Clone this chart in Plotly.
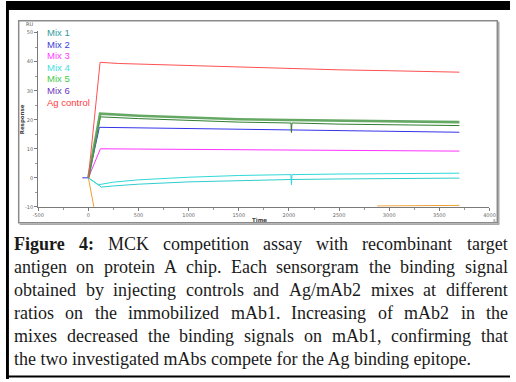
import plotly.graph_objects as go

W, H = 516, 382

# ---------------- data ----------------
x_ticks = [-500, 0, 500, 1000, 1500, 2000, 2500, 3000, 3500, 4000]
y_ticks = [-10, 0, 10, 20, 30, 40, 50]

mix5_t = [0, 117, 500, 1000, 1500, 2000, 2500, 3000, 3500, 3700]
mix5_v = [0, 22.1, 21.4, 20.7, 20.2, 19.9, 19.7, 19.5, 19.3, 19.2]

mix1_t = [0, 120, 500, 1000, 1500, 2000, 2020, 2025, 2030, 2500, 3000, 3500, 3700]
mix1_v = [0, 21.0, 20.4, 19.8, 19.2, 18.9, 18.9, 15.6, 18.9, 18.5, 18.3, 18.1, 18.0]

mix2_t = [-60, 0, 110, 500, 1000, 1500, 2000, 2500, 3000, 3500, 3700]
mix2_v = [0, 0, 17.4, 17.2, 16.9, 16.6, 16.4, 16.2, 16.0, 15.8, 15.7]

mix3_t = [0, 120, 500, 1000, 1500, 2000, 2500, 3000, 3500, 3700]
mix3_v = [0, 10.0, 9.9, 9.8, 9.6, 9.5, 9.4, 9.3, 9.25, 9.2]

mix4_t = [0, 100, 250, 500, 1000, 1500, 2000, 2020, 2025, 2030, 2500, 3000, 3500, 3700]
mix4_v = [0, -2.4, -1.5, -0.7, 0.2, 0.8, 1.1, 1.1, -2.4, 1.1, 1.3, 1.4, 1.5, 1.6]

mix6_t = [0, 130, 250, 500, 1000, 1500, 2000, 2500, 3000, 3500, 3700]
mix6_v = [0, -3.2, -2.8, -2.2, -1.4, -0.9, -0.6, -0.4, -0.25, -0.15, -0.1]

agc_t = [0, 117, 300, 500, 1000, 1500, 2000, 2500, 3000, 3500, 3700]
agc_v = [0, 39.8, 39.4, 39.2, 38.6, 38.1, 37.6, 37.2, 36.9, 36.6, 36.4]

regen_t = [0, 60, None, 2880, 3300, 3700]
regen_v = [0, -11, None, -9.7, -9.6, -9.5]

legend_names = ["Mix 1", "Mix 2", "Mix 3", "Mix 4", "Mix 5", "Mix 6", "Ag control"]
legend_colors = ["#2f9c9c", "#3b3bd6", "#ff3dff", "#3fe0e0", "#44cc44", "#6b35c0", "#ff3b3b"]

caption_lines = [
    "Figure 4: MCK competition assay with recombinant target",
    "antigen on protein A chip. Each sensorgram the binding signal",
    "obtained by injecting controls and Ag/mAb2 mixes at different",
    "ratios on the immobilized mAb1. Increasing of mAb2 in the",
    "mixes decreased the binding signals on mAb1, confirming that",
    "the two investigated mAbs compete for the Ag binding epitope.",
]

# ---------------- helpers ----------------
def px(x):
    return x / W

def py(y):
    return 1 - y / H

TIMES = {' ': 250, 'a': 444, 'b': 500, 'c': 444, 'd': 500, 'e': 444, 'f': 333, 'g': 500,
         'h': 500, 'i': 278, 'j': 278, 'k': 500, 'l': 278, 'm': 778, 'n': 500, 'o': 500,
         'p': 500, 'q': 500, 'r': 333, 's': 389, 't': 278, 'u': 500, 'v': 500, 'w': 722,
         'x': 500, 'y': 500, 'z': 444, 'A': 722, 'C': 667, 'E': 611, 'F': 556, 'I': 333,
         'K': 722, 'M': 889, '.': 250, ',': 250, ':': 278, '/': 278, '1': 500, '2': 500,
         '4': 500}
TIMES_B = {'F': 611, 'i': 278, 'g': 500, 'u': 556, 'r': 444, 'e': 444, '4': 500, ':': 333}

def wid(word, bold=False):
    tbl = TIMES_B if bold else TIMES
    return sum(tbl.get(c, 500) for c in word) / 1000.0

fig = go.Figure()

def add(t, v, color, width=1.0, opacity=1.0):
    fig.add_trace(go.Scatter(x=t, y=v, mode="lines", line=dict(color=color, width=width),
                             opacity=opacity, showlegend=False, hoverinfo="skip"))

add(regen_t, regen_v, "#f0a030", 1.0)
add(mix6_t, mix6_v, "#30cccc", 1.0)
add(mix4_t, mix4_v, "#30d8d8", 1.0)
add(mix3_t, mix3_v, "#ff33ff", 1.0)
add(mix2_t, mix2_v, "#3434e8", 1.0)
add(mix1_t, mix1_v, "#2f7d2f", 1.0)
add(mix5_t, mix5_v, "#4a9a4a", 2.6, 0.85)
add(agc_t, agc_v, "#ff5050", 1.0)

ann = []
# legend as coloured text
for i, (n, c) in enumerate(zip(legend_names, legend_colors)):
    ann.append(dict(x=px(40), y=py(32 + i * 11.7), xref="paper", yref="paper", text=n,
                    showarrow=False, xanchor="left", yanchor="middle",
                    font=dict(family="Liberation Sans", size=9.5, color=c)))
# axis labels
small = dict(family="DejaVu Sans", size=5, color="#555")
ann.append(dict(x=px(24), y=py(23.5), xref="paper", yref="paper", text="RU", showarrow=False,
                xanchor="center", yanchor="middle", font=small))
ann.append(dict(x=px(17), y=py(120), xref="paper", yref="paper", text="<b>Response</b>",
                showarrow=False, textangle=-90, xanchor="center", yanchor="middle",
                font=dict(family="DejaVu Sans", size=5.5, color="#444")))
ann.append(dict(x=px(260), y=py(221.5), xref="paper", yref="paper", text="<b>Time</b>",
                showarrow=False, xanchor="center", yanchor="middle",
                font=dict(family="DejaVu Sans", size=5.5, color="#444")))
ann.append(dict(x=px(500), y=py(221.5), xref="paper", yref="paper", text="s",
                showarrow=False, xanchor="center", yanchor="middle", font=small))

# caption, justified
FS = 18
SCALE = 1.03
left, right = 6, 512
line_y = [245.5, 268.7, 291.9, 315.1, 338.3, 361.5]
cap_font = dict(family="Liberation Serif", size=FS, color="#1a1a1a")
for li, line in enumerate(caption_lines):
    words = line.split(" ")
    if li == len(caption_lines) - 1:
        ann.append(dict(x=px(left), y=py(line_y[li]), xref="paper", yref="paper", text=line,
                        showarrow=False, xanchor="left", yanchor="middle", font=cap_font))
        continue
    bolds = [li == 0 and k < 2 for k in range(len(words))]
    widths = [wid(w, b) * FS * SCALE for w, b in zip(words, bolds)]
    gap = (right - left - sum(widths)) / (len(words) - 1)
    xcur = left
    for k, (w, b, ww) in enumerate(zip(words, bolds, widths)):
        ann.append(dict(x=px(xcur), y=py(line_y[li]), xref="paper", yref="paper",
                        text=f"<b>{w}</b>" if b else w, showarrow=False,
                        xanchor="left", yanchor="middle", font=cap_font))
        xcur += ww + gap

shapes = [
    # chart frame
    dict(type="rect", xref="paper", yref="paper", x0=px(13), x1=px(503), y0=py(224), y1=py(20),
         line=dict(color="#8a8a8a", width=1.5)),
    dict(type="line", xref="paper", yref="paper", x0=px(504.5), x1=px(504.5), y0=py(225.5), y1=py(21),
         line=dict(color="#a8a8a8", width=1.5)),
    dict(type="line", xref="paper", yref="paper", x0=px(14), x1=px(505), y0=py(225.5), y1=py(225.5),
         line=dict(color="#a8a8a8", width=1.5)),
    # black page borders
    dict(type="rect", xref="paper", yref="paper", x0=0, x1=1, y0=py(9), y1=1,
         line=dict(width=0), fillcolor="black"),
    dict(type="rect", xref="paper", yref="paper", x0=0, x1=px(3), y0=0, y1=1,
         line=dict(width=0), fillcolor="black"),
    dict(type="rect", xref="paper", yref="paper", x0=0, x1=1, y0=py(380.5), y1=py(378.5),
         line=dict(width=0), fillcolor="black"),
]

fig.update_layout(
    width=W, height=H, autosize=False, margin=dict(l=0, r=0, t=0, b=0),
    paper_bgcolor="white", plot_bgcolor="white",
    annotations=ann, shapes=shapes,
    xaxis=dict(domain=[px(33), px(495)], range=[-500, 4000], tickvals=x_ticks,
               ticktext=[str(v) for v in x_ticks], showgrid=False, zeroline=False,
               showline=True, linecolor="#7a7a7a", linewidth=1, ticks="outside", ticklen=3,
               tickcolor="#7a7a7a", tickfont=dict(family="DejaVu Sans", size=5, color="#666"),
               minor=dict(dtick=250, ticks="outside", ticklen=2, tickcolor="#9a9a9a")),
    yaxis=dict(domain=[1 - 208 / H, 1 - 30 / H], range=[-10, 50.7], tickvals=y_ticks,
               ticktext=[str(v) for v in y_ticks], showgrid=False, zeroline=False,
               showline=True, linecolor="#7a7a7a", linewidth=1, ticks="outside", ticklen=3,
               tickcolor="#7a7a7a", tickfont=dict(family="DejaVu Sans", size=5, color="#666"),
               minor=dict(dtick=5, ticks="outside", ticklen=2, tickcolor="#9a9a9a")),
)

fig.write_html("out.html",
               config={"responsive": False, "displayModeBar": False},
               post_script="document.body.style.margin='0';document.body.style.overflow='hidden';")
